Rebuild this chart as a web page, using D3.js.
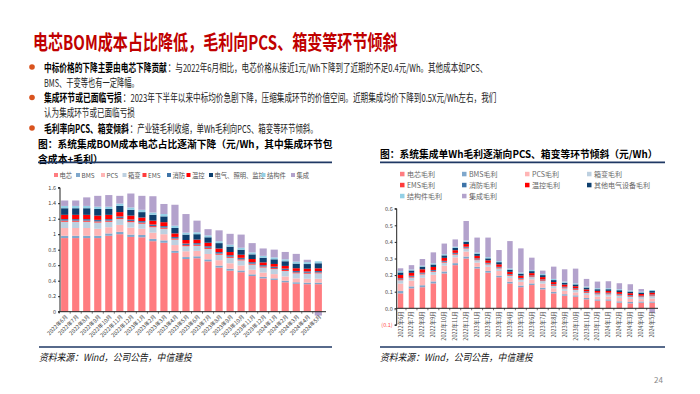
<!DOCTYPE html>
<html><head><meta charset="utf-8">
<script src="https://cdn.jsdelivr.net/npm/d3@7"></script>
<style>
body{margin:0;background:#fff}
svg{display:block}
text{font-family:"Noto Sans CJK SC","Noto Sans",sans-serif}
</style>
</head><body>
<svg id="c" width="700" height="394"></svg>
<script>
// ---------- DATA ----------
const months = ["2022年6月","2022年7月","2022年8月","2022年9月","2022年10月","2022年11月","2022年12月",
"2023年1月","2023年2月","2023年3月","2023年4月","2023年5月","2023年6月","2023年7月","2023年8月","2023年9月",
"2023年10月","2023年11月","2023年12月","2024年1月","2024年2月","2024年3月","2024年4月","2024年5月"];

const leftNames = ["电芯","BMS","PCS","箱变","EMS","消防","温控","电气、照明、监控","结构件","集成"];
const rightNames = ["电芯毛利","BMS毛利","PCS毛利","箱变毛利","EMS毛利","消防毛利","温控毛利","其他电气设备毛利","结构件毛利","集成毛利"];
const colors = ["#FF7C80","#7FA7CC","#FFB5B5","#BDD0E0","#FF3B3B","#3E74A8","#FF0000","#0E3F6E","#93D0E6","#B3A2CC"];

// left chart: system integration BOM cost (元/Wh)
const L_cell  = [0.95,0.95,0.95,0.95,0.98,1.00,0.965,0.96,0.91,0.89,0.76,0.68,0.69,0.65,0.57,0.53,0.51,0.46,0.43,0.41,0.38,0.36,0.355,0.355];
const L_bms   = [0.03,0.03,0.03,0.03,0.03,0.03,0.03,0.03,0.03,0.03,0.025,0.025,0.025,0.025,0.025,0.025,0.022,0.022,0.02,0.02,0.02,0.02,0.02,0.02];
const L_pcs   = [0.10,0.10,0.10,0.09,0.08,0.09,0.09,0.08,0.08,0.08,0.075,0.075,0.07,0.07,0.07,0.07,0.065,0.06,0.055,0.055,0.055,0.05,0.05,0.05];
const L_xb    = [0.08,0.08,0.08,0.08,0.07,0.075,0.07,0.065,0.07,0.07,0.07,0.065,0.065,0.065,0.07,0.07,0.065,0.065,0.065,0.065,0.07,0.065,0.065,0.07];
const L_ems   = [0.015,0.015,0.015,0.015,0.015,0.015,0.015,0.015,0.015,0.015,0.015,0.015,0.015,0.015,0.015,0.015,0.013,0.013,0.013,0.013,0.013,0.013,0.012,0.012];
const L_xf    = [0.02,0.02,0.02,0.02,0.02,0.02,0.02,0.02,0.02,0.02,0.02,0.02,0.02,0.02,0.02,0.02,0.02,0.02,0.018,0.018,0.018,0.018,0.018,0.018];
const L_wk    = [0.055,0.055,0.055,0.055,0.055,0.055,0.05,0.045,0.05,0.05,0.045,0.045,0.045,0.045,0.045,0.04,0.04,0.04,0.035,0.035,0.035,0.035,0.035,0.035];
const L_dq    = [0.085,0.085,0.085,0.085,0.075,0.08,0.075,0.07,0.075,0.075,0.07,0.07,0.07,0.07,0.07,0.07,0.065,0.06,0.06,0.06,0.06,0.06,0.06,0.065];
const L_jg    = [0.03,0.03,0.03,0.03,0.03,0.03,0.03,0.03,0.03,0.03,0.03,0.025,0.025,0.025,0.025,0.025,0.025,0.025,0.025,0.025,0.025,0.025,0.025,0.025];
const L_jc    = [0.07,0.07,0.11,0.14,0.15,0.10,0.18,0.18,0.21,0.13,0.27,0.24,0.15,0.08,0.14,0.14,0.17,0.12,0.095,0.10,0.095,0.10,0.03,-0.05];
const leftTicks = [0,0.2,0.4,0.6,0.8,1,1.2,1.4,1.6];

// right chart: gross profit per Wh (元/Wh)
const R_cell  = [0.09,0.12,0.127,0.15,0.21,0.26,0.30,0.24,0.215,0.187,0.15,0.127,0.14,0.114,0.09,0.076,0.07,0.054,0.046,0.046,0.034,0.03,0.034,0.034];
const R_bms   = [0.014,0.012,0.012,0.012,0.012,0.012,0.012,0.01,0.01,0.01,0.01,0.01,0.01,0.01,0.009,0.009,0.008,0.008,0.008,0.008,0.008,0.008,0.007,0.007];
const R_pcs   = [0.045,0.035,0.045,0.04,0.035,0.035,0.03,0.025,0.025,0.028,0.022,0.022,0.024,0.025,0.022,0.02,0.018,0.018,0.017,0.017,0.02,0.018,0.014,0.018];
const R_xb    = [0.02,0.018,0.02,0.018,0.018,0.016,0.018,0.015,0.014,0.015,0.014,0.014,0.014,0.015,0.014,0.015,0.015,0.013,0.013,0.013,0.015,0.014,0.012,0.014];
const R_ems   = [0.006,0.005,0.005,0.005,0.005,0.005,0.005,0.005,0.005,0.005,0.005,0.005,0.005,0.005,0.005,0.005,0.005,0.005,0.005,0.005,0.005,0.005,0.004,0.005];
const R_xf    = [0.006,0.006,0.006,0.006,0.006,0.006,0.006,0.006,0.005,0.005,0.005,0.005,0.005,0.005,0.005,0.005,0.005,0.005,0.005,0.005,0.005,0.005,0.005,0.005];
const R_wk    = [0.02,0.018,0.02,0.018,0.018,0.016,0.016,0.015,0.015,0.015,0.014,0.014,0.014,0.014,0.013,0.013,0.012,0.011,0.011,0.011,0.011,0.011,0.01,0.011];
const R_dq    = [0.015,0.014,0.016,0.015,0.015,0.014,0.014,0.013,0.012,0.013,0.013,0.012,0.012,0.012,0.012,0.011,0.011,0.011,0.01,0.01,0.011,0.01,0.009,0.01];
const R_jg    = [0.009,0.006,0.006,0.007,0.007,0.007,0.007,0.007,0.007,0.007,0.007,0.007,0.007,0.007,0.007,0.007,0.007,0.006,0.006,0.006,0.006,0.006,0.005,0.006];
const R_jc    = [0.016,0.026,0.04,0.066,0.064,0.044,0.118,0.09,0.118,0.066,0.165,0.145,0.074,0.02,0.074,0.074,0.088,0.046,0.04,0.042,0.036,0.038,0.016,-0.026];
const rightTicks = [-0.1,0,0.1,0.2,0.3,0.4,0.5,0.6];

const leftSeries  = [L_cell,L_bms,L_pcs,L_xb,L_ems,L_xf,L_wk,L_dq,L_jg,L_jc];
const rightSeries = [R_cell,R_bms,R_pcs,R_xb,R_ems,R_xf,R_wk,R_dq,R_jg,R_jc];

// ---------- DRAW ----------
const svg = d3.select("#c");
const red = "#C00000", navy = "#1F3864";

// text squeezed horizontally to a target width (condensed look) via transform
function fitText(str, x, y, w, attrs){
  const t = svg.append("text").attr("dominant-baseline","central").text(str);
  Object.entries(attrs).forEach(([k,v])=>t.attr(k,v));
  const nat = t.node().getComputedTextLength();
  const s = w/nat;
  t.attr("transform",`translate(${x},${y}) scale(${s},1)`);
  return t;
}

// title
fitText("电芯BOM成本占比降低，毛利向PCS、箱变等环节倾斜",33,41,365,
  {"font-size":20,"font-weight":"bold","fill":red});

// bullets
const bullets = [
  {y:67, b:"中标价格的下降主要由电芯下降贡献", bw:123, t:"：与2022年6月相比，电芯价格从接近1元/Wh下降到了近期的不足0.4元/Wh。其他成本如PCS、", w:320, dot:true},
  {y:82, b:"", bw:0, t:"BMS、干变等也有一定降幅。", w:95},
  {y:97.5, b:"集成环节或已面临亏损", bw:78, t:"：2023年下半年以来中标均价急剧下降，压缩集成环节的价值空间。近期集成均价下降到0.5X元/Wh左右，我们", w:374, dot:true},
  {y:112.8, b:"", bw:0, t:"认为集成环节或已面临亏损", w:91},
  {y:128, b:"毛利率向PCS、箱变倾斜", bw:85, t:"：产业链毛利收缩，单Wh毛利向PCS、箱变等环节倾斜。", w:188, dot:true}
];
bullets.forEach(d=>{
  if(d.dot) svg.append("circle").attr("cx",32).attr("cy",d.y).attr("r",2.8).attr("fill","#D9531E");
  if(d.b) fitText(d.b,44,d.y,d.bw,{"font-size":11,"font-weight":"bold","fill":"#000"});
  fitText(d.t,44+d.bw+(d.b?0.8:0),d.y,d.w,{"font-size":11,"fill":"#222"});
});

// chart titles
function heading(lines, x, x2, lineY){
  lines.forEach(l=>fitText(l.t,x,l.y,l.w,{"font-size":10,"font-weight":"bold","fill":"#000"}));
  svg.append("line").attr("x1",x).attr("x2",x2).attr("y1",lineY).attr("y2",lineY)
    .attr("stroke",navy).attr("stroke-width",1.8);
}
heading([{t:"图：系统集成BOM成本电芯占比逐渐下降（元/Wh，其中集成环节包",y:143.5,w:295},
         {t:"含成本+毛利）",y:158,w:65}],38,332,162.3);
heading([{t:"图：系统集成单Wh毛利逐渐向PCS、箱变等环节倾斜（元/Wh）",y:154,w:278}],380,665,162.3);

// sources
function source(x, x2){
  svg.append("line").attr("x1",x).attr("x2",x2).attr("y1",347).attr("y2",347)
    .attr("stroke",navy).attr("stroke-width",1.5);
  fitText("资料来源：Wind，公司公告，中信建投",x,357,153,{"font-size":10,"font-style":"italic","fill":"#111"});
}
source(39,332); source(380,665);
svg.append("text").attr("x",654).attr("y",379).attr("dominant-baseline","central")
  .attr("font-size",8).attr("fill","#888").text("24");

// legends
const leftLegX = [54,76,101,122.5,142.5,167,186.5,209,261.5,291];
leftNames.forEach((n,i)=>{
  svg.append("rect").attr("x",leftLegX[i]).attr("y",173).attr("width",4).attr("height",4).attr("fill",colors[i]);
  svg.append("text").attr("x",leftLegX[i]+5.5).attr("y",175).attr("dominant-baseline","central")
    .attr("font-size",6.3).attr("fill","#555").text(n);
});
const rColX = [400,462,525,587], rRowY=[174,185,196];
rightNames.forEach((n,i)=>{
  const x = rColX[i%4], y = rRowY[Math.floor(i/4)];
  svg.append("rect").attr("x",x).attr("y",y-2.2).attr("width",4.5).attr("height",4.5).attr("fill",colors[i]);
  svg.append("text").attr("x",x+7).attr("y",y).attr("dominant-baseline","central")
    .attr("font-size",7).attr("fill","#666").text(n);
});

// stacked chart builder
function stackedChart(cfg){
  const rows = months.map((m,j)=>{
    const r = {m};
    cfg.series.forEach((s,i)=>{ r["k"+i] = s[j]; });
    return r;
  });
  const keys = cfg.series.map((s,i)=>"k"+i);
  const stacked = d3.stack().keys(keys).offset(d3.stackOffsetDiverging)(rows);
  const x = d3.scaleBand().domain(months).range(cfg.xr).paddingInner(cfg.pad).paddingOuter(0.1);
  const y = d3.scaleLinear().domain(cfg.yd).range(cfg.yr);
  const g = svg.append("g");
  stacked.forEach((layer,i)=>{
    g.selectAll(null).data(layer).join("rect")
      .attr("x",d=>x(d.data.m)).attr("width",x.bandwidth())
      .attr("y",d=>y(Math.max(d[0],d[1]))).attr("height",d=>Math.abs(y(d[0])-y(d[1])))
      .attr("fill",colors[i]);
  });
  // y axis
  const ya = d3.axisLeft(y).tickValues(cfg.ticks).tickSize(2).tickPadding(2).tickFormat(cfg.fmt);
  const yg = svg.append("g").attr("transform",`translate(${cfg.xr[0]},0)`).call(ya);
  yg.select(".domain").attr("stroke","#222").attr("d",`M-2,${y(cfg.yd[1])}H0V${y(cfg.yd[0])}H-2`);
  yg.selectAll(".tick line").attr("stroke","#222");
  yg.selectAll("text").attr("font-size",5.5).attr("fill","#444").attr("font-family",cfg.tickFont);
  if(cfg.redNeg) yg.selectAll("text").filter(d=>d<0).attr("fill","#FF4D4D");
  // x axis at zero
  const xg = svg.append("g").attr("transform",`translate(0,${y(0)})`);
  xg.append("line").attr("x1",cfg.xr[0]).attr("x2",cfg.xr[1]+cfg.xext).attr("stroke","#222").attr("stroke-width",1);
  const step = x.step();
  months.forEach(m=>{
    const bx = x(m) - (step-x.bandwidth())/2;
    xg.append("line").attr("x1",bx).attr("x2",bx).attr("y1",0).attr("y2",2).attr("stroke","#222").attr("stroke-width",0.6);
  });
  const lx = m => x(m)+x.bandwidth()/2;
  months.forEach(m=>{
    xg.append("text").attr("transform",`translate(${lx(m)+cfg.lblDx},${cfg.lblDy}) rotate(${cfg.rot})`)
      .attr("text-anchor","end").attr("dominant-baseline","central")
      .attr("font-size",5.5).attr("fill","#444").text(m);
  });
}

stackedChart({series:leftSeries, xr:[60,323], pad:0.35, yd:[0,1.6], yr:[311.7,187.7],
  ticks:leftTicks, fmt:d3.format("~g"), tickFont:"Liberation Sans", xext:3, rot:-45, lblDx:2, lblDy:4});
stackedChart({series:rightSeries, xr:[396.7,656], pad:0.5, yd:[-0.1,0.6], yr:[324.9,208.7],
  ticks:rightTicks, fmt:d=>d<0?`(${d3.format(".1f")(-d)})`:d3.format(".1f")(d), tickFont:"Liberation Serif",
  redNeg:true, xext:2, rot:-90, lblDx:0, lblDy:3});
</script>
</body></html>
